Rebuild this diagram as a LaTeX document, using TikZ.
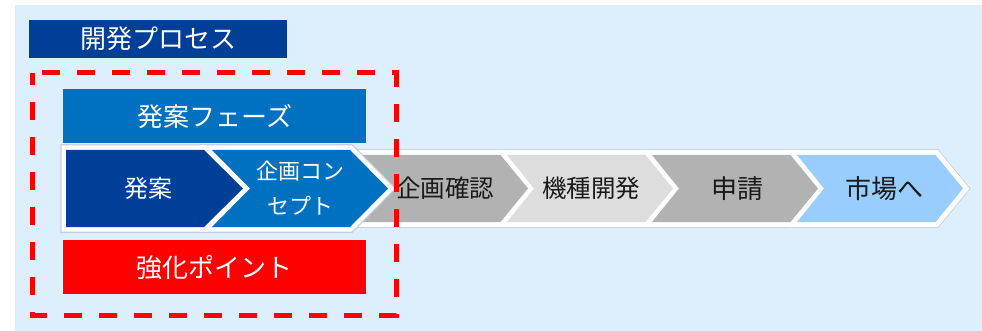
\documentclass[tikz,border=0pt]{standalone}
\usepackage{fontspec}
\setmainfont{Noto Sans CJK JP}
\definecolor{bgblue}{HTML}{DDEEFD}
\definecolor{dkblue}{HTML}{003F98}
\definecolor{midblue}{HTML}{0070C0}
\definecolor{lgtblue}{HTML}{99CCFF}
\definecolor{grayA}{HTML}{B2B2B2}
\definecolor{grayB}{HTML}{DDDDDD}
\definecolor{shadow}{HTML}{C4CFDA}
\definecolor{inkdark}{HTML}{1A1A1A}
\begin{document}
\begin{tikzpicture}[x=1pt,y=-1pt,
  lbl/.style={font=\fontsize{#1}{#1}\selectfont, inner sep=0pt, text=white},
  dlbl/.style={font=\fontsize{#1}{#1}\selectfont, inner sep=0pt, text=inkdark},
  bar/.style={fill=#1, minimum width=303pt, minimum height=54pt, anchor=north west, inner sep=0pt, text=white, font=\fontsize{26}{26}\selectfont},
  halo/.style={draw=white, line width=10pt, line join=miter},
  halosh/.style={draw=shadow, line width=11.5pt, line join=miter},
  redbox/.style={draw=red, line width=5pt, dash pattern=on 18pt off 17pt, dash phase=25pt}
]
\useasboundingbox (0,0) rectangle (982,331);
\fill[bgblue] (15,5) rectangle (982,331);

% title
\node[fill=dkblue, minimum width=258pt, minimum height=38pt, anchor=north west, inner sep=0pt,
      text=white, font=\fontsize{26}{26}\selectfont] (title) at (29,20) {開発プロセス};

% phase bars
\node[bar=midblue] (phase) at (63,89) {発案フェーズ};
\node[bar=red] (point) at (63,240) {強化ポイント};

% gray chevrons
\def\grayshape#1{(#1,155) -- ++(138.5,0) -- ++(27.5,33.5) -- ++(-27.5,33.5) -- ++(-138.5,0) -- ++(27,-33.5) -- cycle}
\foreach \i in {0,1,2,3} {
  \pgfmathsetmacro\xo{362+145*\i}
  \path[halosh] \grayshape{\xo};
}
\foreach \i in {0,1,2,3} {
  \pgfmathsetmacro\xo{362+145*\i}
  \path[halo] \grayshape{\xo};
}
\fill[grayA]   \grayshape{362};
\fill[grayB]   \grayshape{507};
\fill[grayA]   \grayshape{652};
\fill[lgtblue] \grayshape{797};

% blue chevrons
\def\bluefirst{(66,150) -- (204,150) -- (243,188.5) -- (204,227) -- (66,227) -- cycle}
\def\bluesecond{(212,150) -- (350,150) -- (388,188.5) -- (350,227) -- (212,227) -- (250,188.5) -- cycle}
\path[halosh] \bluefirst;
\path[halosh] \bluesecond;
\path[halo, line width=9pt] \bluefirst;
\path[halo, line width=9pt] \bluesecond;
\fill[dkblue] \bluefirst;
\fill[midblue] \bluesecond;

% labels
\node[lbl=24] (hatsuan) at (148,188.5) {発案};
\node[lbl=22, align=center, font=\fontsize{22}{35}\selectfont] (concept) at (300,188.5) {企画コン\\セプト};
\node[dlbl=24.5] (kakunin) at (445,188.5) {企画確認};
\node[dlbl=24.5] (kaihatsu) at (591,188.5) {機種開発};
\node[dlbl=26] (shinsei) at (737,188.5) {申請};
\node[dlbl=26] (shijo) at (884,188.5) {市場へ};

% red dashed frame
\draw[redbox] (32,73) -- (396,73) -- (396,315) -- (32,315) -- cycle;
\end{tikzpicture}
\end{document}
